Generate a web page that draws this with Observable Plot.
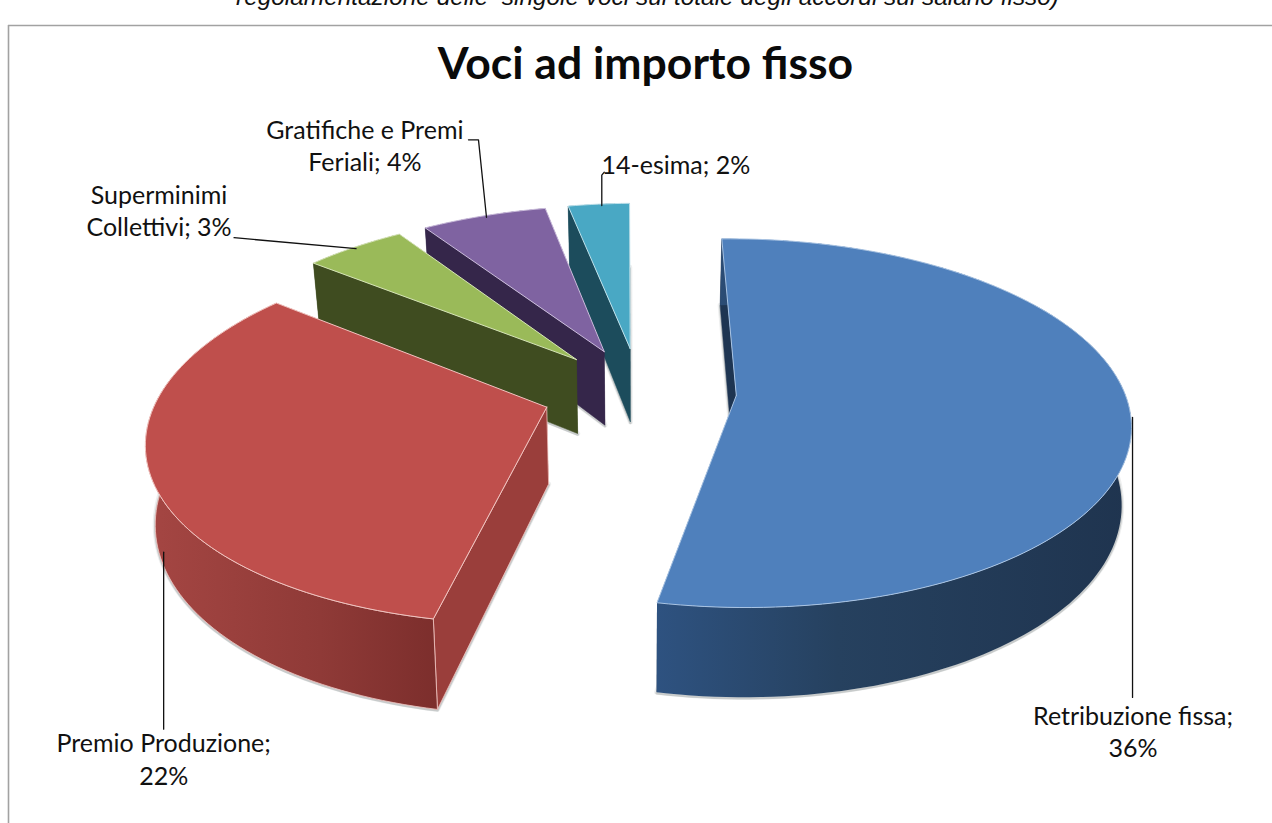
<!DOCTYPE html>
<html>
<head>
<meta charset="utf-8">
<script src="https://cdn.jsdelivr.net/npm/d3@7"></script>
<script src="https://cdn.jsdelivr.net/npm/@observablehq/plot@0.6"></script>
<style>
html,body{margin:0;padding:0;background:#fff;overflow:hidden}
svg{display:block}
</style>
</head>
<body>
<div id="chart"></div>
<script>
// --- chart data ---
const categories = ["Retribuzione fissa", "Premio Produzione", "Superminimi Collettivi", "Gratifiche e Premi Feriali", "14-esima"];
const values = [36, 21.9, 3.31, 4.11, 2.02];
const labelText = ["Retribuzione fissa;\n36%", "Premio Produzione;\n22%", "Superminimi\nCollettivi; 3%", "Gratifiche e Premi\nFeriali; 4%", "14-esima; 2%"];
const title = "Voci ad importo fisso";
const cutText = "regolamentazione delle  singole voci sul totale degli accordi sul salario fisso)";

// --- styles ---
const topFill = ["#4f80bc", "#bf4f4c", "#9aba59", "#7f63a1", "#49a8c4"];
const edgeTint = ["#a9c4e4", "#f0c4c0", "#d6e4b8", "#cbbddc", "#bfe2ec"];
const sideFill = ["#1e3552", "#9a3e3b", "#3f4c20", "#35264a", "#1c4c5c"];
const wallStops = [["#2e5280", "#26415f", "#1f344f"], ["#a54643", "#8f3a37", "#7c2e2c"], ["#3f4c20"], ["#35264a"], ["#1c4c5c"]];

// --- 3D pie geometry ---
const view = {cx: 639, cy: 391, rx: 388, ry: 179, k: 0.15, shear: 6, depth: 76, shrink: 0.98, explode: 0.25, start: -1.2};
const total = d3.sum(values);
const rad = d => d * Math.PI / 180;
let acc = view.start;
const slices = values.map((v, i) => {
  const a0 = acc, a1 = acc + v / total * 360;
  acc = a1;
  const mid = rad((a0 + a1) / 2);
  return {i, a0, a1, ox: view.explode * Math.sin(mid), oy: -view.explode * Math.cos(mid)};
});
function up(gx, gy) {
  const d = 1 - view.k * gy;
  return [view.cx + (view.rx * gx - view.shear * gy) / d, view.cy + view.ry * gy / d, d];
}
function down(gx, gy) {
  const [x, y, d] = up(gx, gy);
  return [view.cx + (x - view.cx) * view.shrink, y + view.depth / d];
}
function arc(s, fn) {
  const n = Math.max(8, Math.ceil((s.a1 - s.a0) / 1.5));
  return d3.range(n + 1).map(j => {
    const a = rad(s.a0 + (s.a1 - s.a0) * j / n);
    return fn(s.ox + Math.sin(a), s.oy - Math.cos(a));
  });
}
const closed = p => [...p, p[0]];
const rimPoint = s => {
  const a = rad((s.a0 + s.a1) / 2);
  return up(s.ox + Math.sin(a), s.oy - Math.cos(a));
};

const face = (pts, o) => Plot.line(pts, {x: d => d[0], y: d => d[1], strokeLinejoin: "round", ...o});

// --- leader lines and labels, placed relative to each slice's rim point ---
const leaderOffsets = [
  [[2.5, 6], [2.5, 286]],
  [[13.6, 78], [13.6, 255]],
  [[1.5, 1.5], [-120.5, -9.5]],
  [[2.6, 1.4], [-5.4, -76], [-15.4, -76]],
  [[3, 1.4], [3, -29], [5.5, -32]]
];
const labelOffsets = [[3, 319], [13.6, 284], [-195.5, -37.5], [-119, -71], [77, -40.6]];
const labelSize = 25;

const rims = slices.map(rimPoint);
const labels = slices.map((s, i) => ({text: labelText[i], x: rims[i][0] + labelOffsets[i][0], y: rims[i][1] + labelOffsets[i][1]}));

const marks = [];
// Gradients for the curved outer walls
marks.push(() => {
  const defs = d3.create("svg:defs");
  slices.forEach((s, i) => {
    const pts = [...arc(s, up), ...arc(s, down)];
    const g = defs.append("linearGradient").attr("id", "wall" + i).attr("gradientUnits", "userSpaceOnUse")
      .attr("x1", i === 1 ? d3.min(pts, d => d[0]) : Math.min(...arc(s, up).map(d => d[0])))
      .attr("x2", d3.max(pts, d => d[0])).attr("y1", 0).attr("y2", 0);
    const stops = i === 0 ? [0, 0.38, 1] : i === 1 ? [0, 0.6, 1] : [0];
    wallStops[i].forEach((c, j) => g.append("stop").attr("offset", stops[j]).attr("stop-color", c));
  });
  return defs.node();
});

// Frame (only top and left remain in the picture)
marks.push(Plot.ruleY([25], {stroke: "#a2a2a2", strokeWidth: 1.6, x1: 8, x2: 1272}));
marks.push(Plot.ruleX([8], {stroke: "#a2a2a2", strokeWidth: 1.6, y1: 25, y2: 823}));

// Slices, back to front
[4, 3, 2, 1, 0].forEach(i => {
  const s = slices[i];
  const aUp = arc(s, up), aDown = arc(s, down);
  const apexUp = up(s.ox, s.oy), apexDown = down(s.ox, s.oy);
  const bottom = closed([apexDown, ...aDown]);
  // soft shadow round the lower plane
  marks.push(face(bottom, {fill: "none", stroke: "#a8aeae", strokeWidth: 5, strokeOpacity: 0.2}));
  marks.push(face(bottom, {fill: "none", stroke: "#8f9696", strokeWidth: 2.4, strokeOpacity: 0.4, dy: 1}));
  // end radial wall (hidden), start radial wall, outer wall, top
  const endWall = closed([apexUp, aUp[aUp.length - 1], aDown[aDown.length - 1], apexDown]);
  const startWall = closed([apexUp, aUp[0], aDown[0], apexDown]);
  marks.push(face(endWall, {fill: sideFill[i], stroke: "none"}));
  marks.push(face(startWall, {fill: sideFill[i], stroke: i === 1 ? edgeTint[i] : sideFill[i], strokeWidth: i === 1 ? 0.8 : 0.5}));
  const wall = closed([...aUp, ...aDown.slice().reverse()]);
  marks.push(face(wall, {fill: `url(#wall${i})`, stroke: i === 1 ? edgeTint[i] : "none", strokeWidth: 0.8}));
  const top = closed([apexUp, ...aUp]);
  marks.push(face(top, {fill: topFill[i], stroke: edgeTint[i], strokeWidth: 1}));
});

// Leader lines
slices.forEach((s, i) => {
  const pts = leaderOffsets[i].map(([dx, dy]) => [rims[i][0] + dx, rims[i][1] + dy]);
  marks.push(face(pts, {stroke: "#111", strokeWidth: 1.3, fill: "none"}));
});

// Texts
marks.push(Plot.text(labels, {x: "x", y: "y", text: "text", fontSize: labelSize, lineHeight: 1.3, fill: "#111", textAnchor: "middle", fontFamily: "Lato"}));
marks.push(Plot.text([title], {x: [645], y: [64], text: d => d, fontSize: 44.5, fontWeight: 700, fill: "#0a0a0a", fontFamily: "Lato"}));
marks.push(Plot.text([cutText], {x: [647], y: [-3.5], text: d => d, fontSize: 24.4, fontStyle: "italic", fill: "#111", fontFamily: "Liberation Sans"}));

const chart = Plot.plot({
  width: 1272, height: 823,
  marginTop: 0, marginRight: 0, marginBottom: 0, marginLeft: 0,
  x: {domain: [0, 1272], range: [0, 1272], axis: null},
  y: {domain: [0, 823], range: [0, 823], axis: null},
  style: {background: "#fff", overflow: "hidden"},
  marks
});
document.getElementById("chart").appendChild(chart);
</script>
</body>
</html>
